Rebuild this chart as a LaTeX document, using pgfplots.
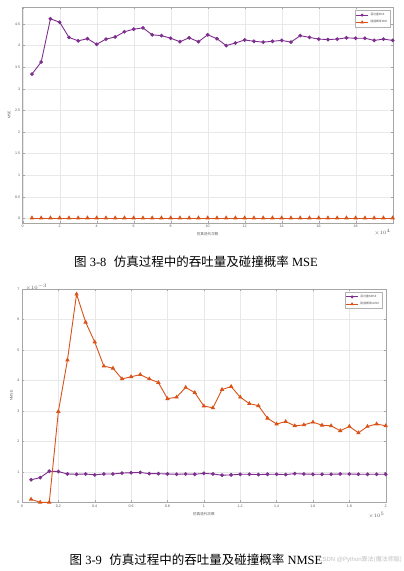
\documentclass[border=0pt]{standalone}
\usepackage{pgfplots}
\pgfplotsset{compat=1.18}
\usepackage{pgfplotstable}
\usepackage{fontspec}
\setmainfont{Liberation Serif}
\setsansfont{Liberation Sans}
\newfontfamily\cjk{Noto Sans CJK SC}
\definecolor{mpurple}{rgb}{0.494,0.184,0.556}
\definecolor{morange}{rgb}{0.850,0.325,0.098}

\pgfplotstableread{
x thr col
0.5 3.34 0.01
1.0 3.62 0.01
1.5 4.62 0.01
2.0 4.54 0.01
2.5 4.19 0.01
3.0 4.11 0.01
3.5 4.16 0.01
4.0 4.03 0.01
4.5 4.15 0.01
5.0 4.20 0.01
5.5 4.32 0.01
6.0 4.38 0.01
6.5 4.41 0.01
7.0 4.25 0.01
7.5 4.23 0.01
8.0 4.17 0.01
8.5 4.09 0.01
9.0 4.18 0.01
9.5 4.09 0.01
10.0 4.25 0.01
10.5 4.16 0.01
11.0 4.00 0.01
11.5 4.06 0.01
12.0 4.13 0.01
12.5 4.10 0.01
13.0 4.08 0.01
13.5 4.10 0.01
14.0 4.12 0.01
14.5 4.08 0.01
15.0 4.23 0.01
15.5 4.19 0.01
16.0 4.15 0.01
16.5 4.14 0.01
17.0 4.15 0.01
17.5 4.18 0.01
18.0 4.17 0.01
18.5 4.17 0.01
19.0 4.12 0.01
19.5 4.15 0.01
20.0 4.12 0.01
}\mseTable

\pgfplotstableread{
x thr col
0.05 0.74 0.10
0.10 0.81 0.00
0.15 1.02 0.00
0.20 1.01 2.98
0.25 0.93 4.67
0.30 0.92 6.83
0.35 0.93 5.91
0.40 0.90 5.26
0.45 0.93 4.47
0.50 0.93 4.40
0.55 0.96 4.05
0.60 0.97 4.12
0.65 0.98 4.19
0.70 0.94 4.05
0.75 0.94 3.93
0.80 0.93 3.40
0.85 0.92 3.45
0.90 0.93 3.77
0.95 0.92 3.60
1.00 0.95 3.16
1.05 0.93 3.10
1.10 0.89 3.70
1.15 0.90 3.80
1.20 0.92 3.45
1.25 0.92 3.24
1.30 0.91 3.17
1.35 0.92 2.76
1.40 0.92 2.57
1.45 0.91 2.65
1.50 0.94 2.51
1.55 0.93 2.54
1.60 0.92 2.63
1.65 0.92 2.53
1.70 0.92 2.51
1.75 0.93 2.35
1.80 0.93 2.49
1.85 0.92 2.28
1.90 0.92 2.49
1.95 0.92 2.57
2.00 0.92 2.51
}\nmseTable

\pgfplotsset{
  mstyle/.style={
    scale only axis,
    axis line style={gray!70, line width=0.4pt},
    grid=major,
    major grid style={gray!18, line width=0.3pt},
    tick style={gray!70, line width=0.3pt},
    major tick length=2pt,
    tick align=inside,
    tick pos=both,
    ticklabel style={font=\sffamily\fontsize{3.6}{4}\selectfont, text=black!65},
    xticklabel style={yshift=1pt},
    yticklabel style={xshift=1pt},
    label style={font=\cjk\fontsize{3.6}{4}\selectfont, text=black!65},
    legend style={font=\cjk\fontsize{2.8}{3.2}\selectfont, draw=gray!60, line width=0.3pt,
      inner sep=0.6pt, row sep=-0.6pt, text=black!65},
    legend cell align=left,
    legend image post style={scale=0.7},
    /pgf/number format/assume math mode=true,
    scaled ticks=false,
  },
  pline/.style={color=mpurple, line width=0.9pt, mark=*, mark size=1.4pt, mark options={fill=mpurple, solid}},
  oline/.style={color=morange, line width=0.9pt, mark=triangle*, mark size=1.7pt, mark options={fill=morange, solid}},
}

\begin{document}
\begin{tikzpicture}
\path[use as bounding box] (0pt,0pt) rectangle (404pt,-571pt);

\begin{axis}[mstyle,
  at={(22.7pt,-222.7pt)}, anchor=south west,
  width=370pt, height=216pt,
  xmin=0, xmax=20, ymin=-0.1, ymax=4.9,
  xtick={0,2,...,18},
  ytick={0,0.5,1,1.5,2,2.5,3,3.5,4,4.5},
  yticklabels={0,0.5,1,1.5,2,2.5,3,3.5,4,4.5},
  xlabel={仿真迭代次数}, ylabel={MSE},
  xlabel style={yshift=2pt},
  ylabel style={yshift=-2pt, font=\sffamily\fontsize{3.6}{4}\selectfont},
  legend style={at={(0.993,0.983)}, anchor=north east},
]
\addplot[pline] table[x=x, y=thr] {\mseTable};
\addlegendentry{吞吐量MSE}
\addplot[oline] table[x=x, y=col] {\mseTable};
\addlegendentry{碰撞概率MSE}
\end{axis}
\node[anchor=east, font=\sffamily\fontsize{3.6}{4}\selectfont, text=black!65] at (394pt,-232pt) {$\times10^{4}$};

\node[font=\fontsize{12.5}{14}\selectfont] at (196pt,-262pt) {{\cjk 图} 3-8\hspace{0.6em}{\cjk 仿真过程中的吞吐量及碰撞概率} MSE};

\begin{axis}[mstyle,
  at={(22pt,-502.3pt)}, anchor=south west,
  width=363.7pt, height=213.3pt,
  xmin=0, xmax=2, ymin=0, ymax=7,
  xtick={0,0.2,...,2.01},
  xticklabels={0,0.2,0.4,0.6,0.8,1,1.2,1.4,1.6,1.8,2},
  ytick={0,1,...,7},
  xlabel={仿真迭代次数}, ylabel={NMSE},
  xlabel style={yshift=2pt},
  ylabel style={yshift=-2pt, font=\sffamily\fontsize{3.6}{4}\selectfont},
  legend style={at={(0.99,0.985)}, anchor=north east},
]
\addplot[pline] table[x=x, y=thr] {\nmseTable};
\addlegendentry{吞吐量NMSE}
\addplot[oline] table[x=x, y=col] {\nmseTable};
\addlegendentry{碰撞概率NMSE}
\end{axis}
\node[anchor=west, font=\sffamily\fontsize{3.6}{4}\selectfont, text=black!65] at (22pt,-287pt) {$\times10^{-3}$};
\node[anchor=east, font=\sffamily\fontsize{3.6}{4}\selectfont, text=black!65] at (388pt,-515pt) {$\times10^{5}$};

\node[font=\fontsize{12.5}{14}\selectfont] at (196pt,-560pt) {{\cjk 图} 3-9\hspace{0.6em}{\cjk 仿真过程中的吞吐量及碰撞概率} NMSE};
\node[anchor=east, font=\sffamily\fontsize{6}{7}\selectfont, text=gray!50, inner sep=0pt] at (402pt,-560pt) {CSDN @Python{\cjk 算法(魔法师版)}};
\end{tikzpicture}
\end{document}
